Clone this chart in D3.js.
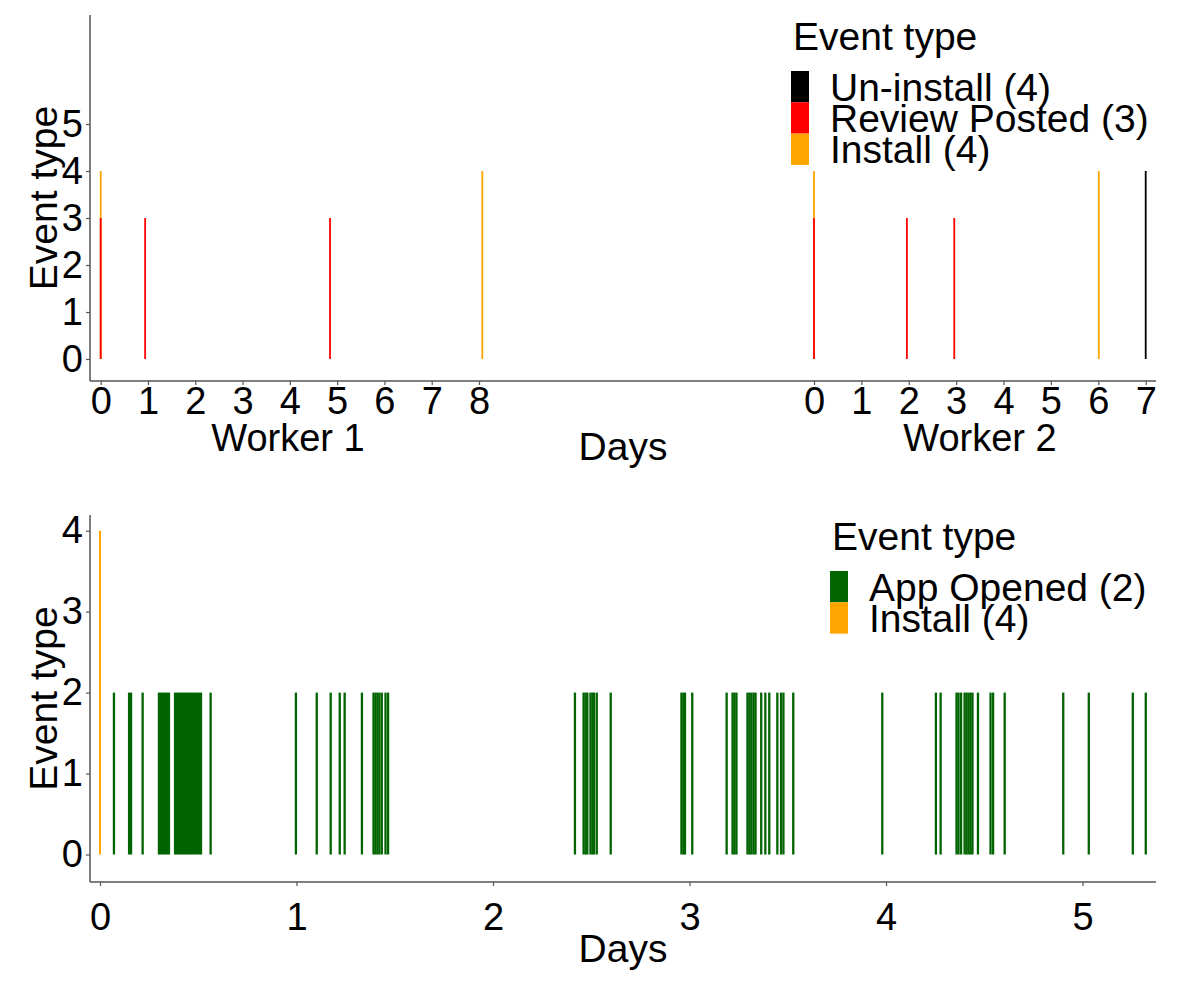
<!DOCTYPE html>
<html>
<head>
  <title>Event timelines</title>
  <script src="https://d3js.org/d3.v7.min.js"></script>
  <style>
    body { margin: 0; background: #fff; }
    text { font-family: "Liberation Sans", Arial, sans-serif; fill: #000; }
  </style>
</head>
<body>
  <svg id="chart" width="1200" height="1000"></svg>

  <script>
    // Event codes (y value of each segment)
    var eventCode = { "Un-install": 4, "Review Posted": 3, "Install": 4, "App Opened": 2 };

    // Top chart: two workers, days since start
    var worker1Days  = [0, 0, 0.94, 4.85, 8.07];
    var worker1Types = ["Install", "Review Posted", "Review Posted", "Review Posted", "Install"];
    var worker2Days  = [0, 0, 1.96, 2.96, 6.01, 7.0];
    var worker2Types = ["Install", "Review Posted", "Review Posted", "Review Posted", "Install", "Un-install"];

    // Bottom chart
    var installDays = [0];
    var appOpenedDays = [
      0.071, 0.148, 0.158, 0.217,
      0.300, 0.310, 0.321, 0.331, 0.341, 0.351,
      0.382, 0.392, 0.402, 0.412, 0.422, 0.433, 0.443, 0.453, 0.463, 0.473, 0.483, 0.494, 0.504, 0.514,
      0.563, 0.997, 1.103, 1.174, 1.220, 1.245, 1.333,
      1.392, 1.402, 1.412, 1.422, 1.434, 1.453, 1.466,
      2.417, 2.461, 2.471, 2.480, 2.496, 2.506, 2.514, 2.528, 2.599,
      2.959, 2.969, 2.977, 3.014,
      3.189, 3.219, 3.229, 3.239, 3.295, 3.305, 3.315, 3.326, 3.336,
      3.365, 3.386, 3.406, 3.447, 3.466, 3.478, 3.528,
      3.981, 4.254, 4.278, 4.359, 4.369, 4.382,
      4.400, 4.410, 4.420, 4.430, 4.440, 4.468, 4.532, 4.545, 4.604,
      4.902, 5.032, 5.256, 5.322
    ];

    // Legends and ticks
    var topLegend = ["Un-install (4)", "Review Posted (3)", "Install (4)"];
    var topLegendTypes = ["Un-install", "Review Posted", "Install"];
    var bottomLegend = ["App Opened (2)", "Install (4)"];
    var bottomLegendTypes = ["App Opened", "Install"];
    var worker1Ticks = [0, 1, 2, 3, 4, 5, 6, 7, 8];
    var worker2Ticks = [0, 1, 2, 3, 4, 5, 6, 7];
    var topYTicks = [0, 1, 2, 3, 4, 5];
    var bottomXTicks = [0, 1, 2, 3, 4, 5];
    var bottomYTicks = [0, 1, 2, 3, 4];

    var color = d3.scaleOrdinal()
      .domain(["Un-install", "Review Posted", "Install", "App Opened"])
      .range(["#000000", "#ff0000", "#ffa500", "#006400"]);

    var svg = d3.select("#chart");
    var axisColor = "#555";

    // Panel frames
    var topPanel = { left: 90, right: 1156, top: 15, bottom: 381 };
    var botPanel = { left: 90, right: 1156, top: 515, bottom: 882 };

    // Scales
    var w1x = d3.scaleLinear().domain([0, 8]).range([100.7, 479]);
    var w2x = d3.scaleLinear().domain([0, 7]).range([814, 1145.7]);
    var topY = d3.scaleLinear().domain([0, 5]).range([359, 124]);
    var botX = d3.scaleLinear().domain([0, 5]).range([100, 1082.5]);
    var botY = d3.scaleLinear().domain([0, 4]).range([854.5, 530.7]);

    function styleAxis(g, size) {
      g.select(".domain").remove();
      g.selectAll(".tick line").attr("stroke", axisColor).attr("stroke-width", 1.2);
      g.selectAll(".tick text")
        .style("font-family", "'Liberation Sans', Arial, sans-serif")
        .attr("font-size", size).attr("fill", "#000");
    }

    function frame(p) {
      svg.append("line").attr("x1", p.left).attr("x2", p.left)
        .attr("y1", p.top).attr("y2", p.bottom)
        .attr("stroke", axisColor).attr("stroke-width", 1.5);
      svg.append("line").attr("x1", p.left).attr("x2", p.right)
        .attr("y1", p.bottom).attr("y2", p.bottom)
        .attr("stroke", axisColor).attr("stroke-width", 1.5);
    }

    function drawSegments(xs, types, x, y, width) {
      var rows = xs.map(function(d, i) { return { day: d, type: types[i] }; });
      // taller events first so shorter ones draw on top
      rows.sort(function(a, b) { return eventCode[b.type] - eventCode[a.type]; });
      svg.append("g").selectAll("line")
        .data(rows)
        .enter()
        .append("line")
        .attr("x1", function(d) { return x(d.day); })
        .attr("x2", function(d) { return x(d.day); })
        .attr("y1", y(0))
        .attr("y2", function(d) { return y(eventCode[d.type]); })
        .attr("stroke", function(d) { return color(d.type); })
        .attr("stroke-width", width);
    }

    function legend(x, y, labels, types) {
      var g = svg.append("g").attr("transform", "translate(" + x + "," + y + ")");
      g.append("text").attr("x", 2).attr("y", 0).attr("font-size", 39).text("Event type");
      var rowH = 31.3;
      labels.forEach(function(l, i) {
        g.append("rect")
          .attr("x", 0).attr("y", 21 + i * rowH)
          .attr("width", 18).attr("height", rowH)
          .attr("fill", color(types[i]));
        g.append("text")
          .attr("x", 39).attr("y", 21 + i * rowH + rowH / 2 + 14)
          .attr("font-size", 39).text(l);
      });
    }

    // ---------- Top chart ----------
    drawSegments(worker1Days, worker1Types, w1x, topY, 1.8);
    drawSegments(worker2Days, worker2Types, w2x, topY, 1.8);
    frame(topPanel);

    svg.append("g").attr("transform", "translate(0," + topPanel.bottom + ")")
      .call(d3.axisBottom(w1x).tickValues(worker1Ticks).tickSize(4).tickPadding(2.5).tickFormat(d3.format("d")))
      .call(styleAxis, 38);
    svg.append("g").attr("transform", "translate(0," + topPanel.bottom + ")")
      .call(d3.axisBottom(w2x).tickValues(worker2Ticks).tickSize(4).tickPadding(2.5).tickFormat(d3.format("d")))
      .call(styleAxis, 38);
    svg.append("g").attr("transform", "translate(" + topPanel.left + ",0)")
      .call(d3.axisLeft(topY).tickValues(topYTicks).tickSize(4).tickPadding(3).tickFormat(d3.format("d")))
      .call(styleAxis, 38);

    svg.append("text").attr("x", 288).attr("y", 451).attr("text-anchor", "middle")
      .attr("font-size", 38).text("Worker 1");
    svg.append("text").attr("x", 980).attr("y", 451).attr("text-anchor", "middle")
      .attr("font-size", 38).text("Worker 2");
    svg.append("text").attr("x", (topPanel.left + topPanel.right) / 2).attr("y", 460).attr("text-anchor", "middle")
      .attr("font-size", 39).text("Days");
    svg.append("text")
      .attr("transform", "translate(57," + (topPanel.top + topPanel.bottom) / 2 + ") rotate(-90)")
      .attr("text-anchor", "middle").attr("font-size", 39).text("Event type");

    legend(791, 50, topLegend, topLegendTypes);

    // ---------- Bottom chart ----------
    drawSegments(installDays, installDays.map(function() { return "Install"; }), botX, botY, 2);
    drawSegments(appOpenedDays, appOpenedDays.map(function() { return "App Opened"; }), botX, botY, 2.3);
    frame(botPanel);

    svg.append("g").attr("transform", "translate(0," + botPanel.bottom + ")")
      .call(d3.axisBottom(botX).tickValues(bottomXTicks).tickSize(4).tickPadding(17).tickFormat(d3.format("d")))
      .call(styleAxis, 38);
    svg.append("g").attr("transform", "translate(" + botPanel.left + ",0)")
      .call(d3.axisLeft(botY).tickValues(bottomYTicks).tickSize(4).tickPadding(3).tickFormat(d3.format("d")))
      .call(styleAxis, 38);

    svg.append("text").attr("x", (botPanel.left + botPanel.right) / 2).attr("y", 962).attr("text-anchor", "middle")
      .attr("font-size", 39).text("Days");
    svg.append("text")
      .attr("transform", "translate(57," + (botPanel.top + botPanel.bottom) / 2 + ") rotate(-90)")
      .attr("text-anchor", "middle").attr("font-size", 39).text("Event type");

    legend(830, 550, bottomLegend, bottomLegendTypes);
  </script>
</body>
</html>
